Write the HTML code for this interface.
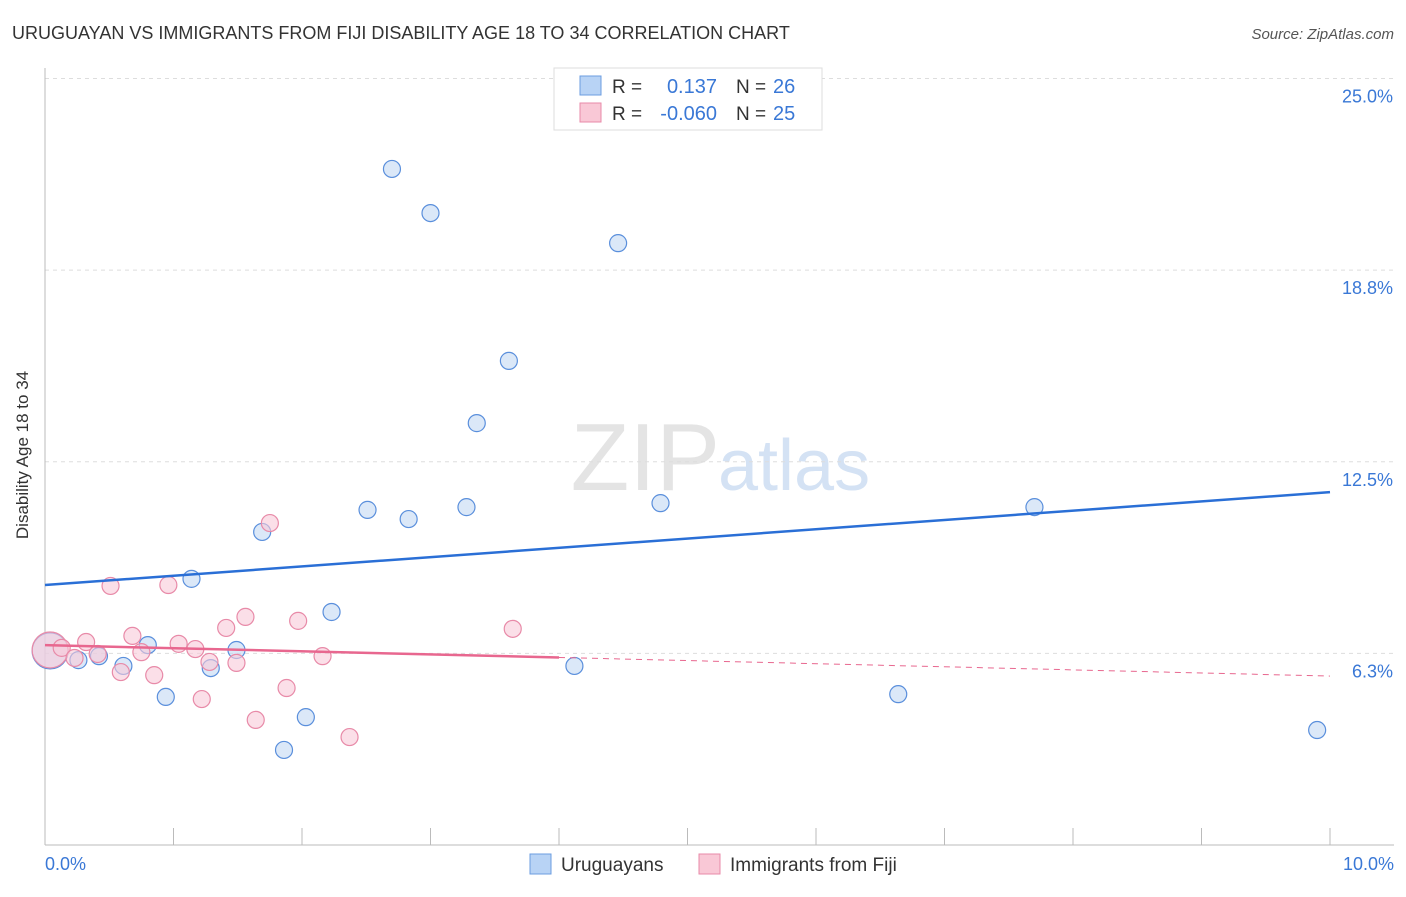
<!DOCTYPE html>
<html><head><meta charset="utf-8"><style>
body{margin:0;background:#fff;font-family:"Liberation Sans",sans-serif}
svg text{font-family:"Liberation Sans",sans-serif}
</style></head><body>
<svg id="c" width="1406" height="892">
<text x="12" y="39" font-size="18" fill="#333">URUGUAYAN VS IMMIGRANTS FROM FIJI DISABILITY AGE 18 TO 34 CORRELATION CHART</text>
<text x="1394" y="39" font-size="15" fill="#555" font-style="italic" text-anchor="end">Source: ZipAtlas.com</text>
<text x="28" y="455" font-size="17" fill="#333" text-anchor="middle" transform="rotate(-90 28 455)">Disability Age 18 to 34</text>
<text x="720" y="490" font-size="96" fill="#e4e4e4" text-anchor="end" font-family="Liberation Serif">ZIP</text>
<text x="718" y="490" font-size="72" fill="#d4e2f4">atlas</text>
<g id="grid"></g><g id="pts"></g><g id="lines"></g>
<g>
<rect x="554" y="68" width="268" height="62" fill="#fff" stroke="#ddd"/>
<rect x="580" y="76" width="21" height="19" fill="#b8d3f5" stroke="#6b9de0"/>
<rect x="580" y="103" width="21" height="19" fill="#f9c8d6" stroke="#e88aa8"/>
<text x="612" y="93" font-size="19" fill="#333">R =</text><text x="717" y="93" font-size="20" fill="#3a78d6" text-anchor="end">0.137</text>
<text x="736" y="93" font-size="19" fill="#333">N =</text><text x="773" y="93" font-size="20" fill="#3a78d6">26</text>
<text x="612" y="120" font-size="19" fill="#333">R =</text><text x="717" y="120" font-size="20" fill="#3a78d6" text-anchor="end">-0.060</text>
<text x="736" y="120" font-size="19" fill="#333">N =</text><text x="773" y="120" font-size="20" fill="#3a78d6">25</text>
</g>
<g>
<rect x="530" y="854" width="21" height="20" fill="#b8d3f5" stroke="#6b9de0"/>
<text x="561" y="871" font-size="19" fill="#333">Uruguayans</text>
<rect x="699" y="854" width="21" height="20" fill="#f9c8d6" stroke="#e88aa8"/>
<text x="730" y="871" font-size="19" fill="#333">Immigrants from Fiji</text>
</g>
<text x="45" y="870" font-size="18" fill="#3a78d6">0.0%</text>
<text x="1394" y="870" font-size="18" fill="#3a78d6" text-anchor="end">10.0%</text>
</svg>
<script>
const blueX=[0.04,0.26,0.42,0.61,0.80,0.94,1.14,1.29,1.49,1.69,1.86,2.03,2.23,2.51,2.70,2.83,3.00,3.28,3.36,3.61,4.12,4.46,4.79,6.64,7.70,9.90];
const blueY=[6.33,6.03,6.16,5.84,6.52,4.83,8.68,5.77,6.36,10.21,3.10,4.17,7.60,10.93,22.05,10.63,20.61,11.02,13.76,15.79,5.84,19.63,11.15,4.92,11.02,3.75];
const pinkX=[0.04,0.13,0.23,0.32,0.41,0.51,0.59,0.68,0.75,0.85,0.96,1.04,1.17,1.22,1.28,1.41,1.49,1.56,1.64,1.75,1.88,1.97,2.16,2.37,3.64];
const pinkY=[6.36,6.43,6.10,6.62,6.23,8.45,5.64,6.82,6.29,5.54,8.48,6.56,6.39,4.76,5.97,7.08,5.94,7.44,4.08,10.50,5.12,7.31,6.16,3.52,7.05];
const yTicks=[6.25,12.5,18.75,25];
const yTickLabels=["6.3%","12.5%","18.8%","25.0%"];
const blueTrend=[8.48,11.51];
const pinkTrend=[6.52,5.51];
const pinkSolidEnd=4.0;
const NS="http://www.w3.org/2000/svg";
const sx=v=>45+v*128.5, sy=v=>845-v*30.66;
function mk(t,a,p){const e=document.createElementNS(NS,t);for(const k in a)e.setAttribute(k,a[k]);p.appendChild(e);return e;}
const grid=document.getElementById('grid'),pts=document.getElementById('pts'),lines=document.getElementById('lines');
yTicks.forEach((t,i)=>{
 const l=mk('line',{x1:45,x2:1394,y1:sy(t),y2:sy(t),stroke:'#ddd','stroke-dasharray':'4 4'},grid);
 
 
 const tx=mk('text',{x:1393,y:sy(t)+24,'font-size':18,fill:'#3a78d6','text-anchor':'end'},grid);
 tx.textContent=yTickLabels[i];
 
 
});
mk('line',{x1:45,x2:45,y1:68,y2:845,stroke:'#bbb'},grid);
mk('line',{x1:45,x2:1394,y1:845,y2:845,stroke:'#bbb'},grid);
for(let i=1;i<=10;i++){const x=45+i*128.5;mk('line',{x1:x,x2:x,y1:828,y2:845,stroke:'#bbb'},grid);}
function dots(X,Y,fill,stroke,name){X.forEach((x,i)=>{
 const c=mk('circle',{cx:sx(x),cy:sy(Y[i]),r:i===0?18:8.5,fill:fill,'fill-opacity':0.6,stroke:stroke,'stroke-width':1.2},pts);
 
 
});}
dots(blueX,blueY,'#c3d8f3','#5a8fdc','uruguayan-point');
dots(pinkX,pinkY,'#f9cad8','#e88aa8','fiji-point');
const bl=mk('line',{x1:sx(0),y1:sy(blueTrend[0]),x2:sx(10),y2:sy(blueTrend[1]),stroke:'#2a6fd6','stroke-width':2.5},lines);


const pm=pinkTrend[0]+(pinkTrend[1]-pinkTrend[0])*pinkSolidEnd/10;
const pl=mk('line',{x1:sx(0),y1:sy(pinkTrend[0]),x2:sx(pinkSolidEnd),y2:sy(pm),stroke:'#e8678f','stroke-width':2.5},lines);


const pd=mk('line',{x1:sx(pinkSolidEnd),y1:sy(pm),x2:sx(10),y2:sy(pinkTrend[1]),stroke:'#e8678f','stroke-width':1,'stroke-dasharray':'6 5'},lines);


</script>
</body></html>
